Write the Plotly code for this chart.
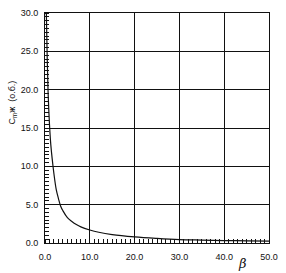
import plotly.graph_objects as go

beta = [0.3, 0.5, 0.7, 1.0, 1.3, 1.6, 2.0, 2.5, 3.0, 3.5, 4.0, 5.0, 6.0, 7.0, 8.0, 10.0, 12.0, 15.0, 20.0, 25.0, 30.0, 35.0, 40.0, 45.0, 50.0]
c_val = [30.0, 24.0, 19.5, 15.5, 12.8, 11.0, 9.0, 7.0, 5.8, 4.8, 4.2, 3.3, 2.8, 2.4, 2.1, 1.7, 1.4, 1.1, 0.8, 0.6, 0.45, 0.38, 0.32, 0.28, 0.25]

x_ticks = [0, 10, 20, 30, 40, 50]
y_ticks = [0, 5, 10, 15, 20, 25, 30]

font = dict(family="Liberation Sans, Arial, sans-serif", size=9, color="#111")

fig = go.Figure()
fig.add_trace(go.Scatter(x=beta, y=c_val, mode="lines",
                         line=dict(color="#111", width=1.2, shape="spline"),
                         showlegend=False))

fig.update_layout(
    width=286, height=273,
    margin=dict(l=45, r=11, t=8, b=30),
    paper_bgcolor="white", plot_bgcolor="white",
    font=font,
    xaxis=dict(range=[0, 50], tickvals=x_ticks, ticktext=[f"{v:.1f}" for v in x_ticks],
               showgrid=True, gridcolor="#111", gridwidth=1,
               showline=True, linecolor="#111", linewidth=1, mirror=True,
               ticks="", zeroline=False, tickfont=font, ticklabelstandoff=5,
               minor=dict(dtick=1, ticks="inside", ticklen=4, tickcolor="#111", showgrid=False)),
    yaxis=dict(range=[0, 30], tickvals=y_ticks, ticktext=[f"{v:.1f}" for v in y_ticks],
               showgrid=True, gridcolor="#111", gridwidth=1,
               showline=True, linecolor="#111", linewidth=1, mirror=True,
               ticks="", zeroline=False, tickfont=font, ticklabelstandoff=4,
               minor=dict(dtick=0.5, ticks="inside", ticklen=4, tickcolor="#111", showgrid=False)),
    annotations=[
        dict(text="<i>β</i>", x=0.883, y=-0.09, xref="paper", yref="paper",
             showarrow=False, font=dict(size=13, family="DejaVu Serif, serif", color="#111"),
             xanchor="center", yanchor="middle"),
        dict(text="C<sub>m</sub>ж  (о.б.)", x=12, y=0.61, xref="paper", yref="paper",
             showarrow=False, textangle=-90, font=dict(size=9, color="#111"),
             xanchor="center", yanchor="middle"),
    ],
)
fig.layout.annotations[1].update(xref="paper", x=(12 - 45) / 230)

fig.write_html("out.html")
